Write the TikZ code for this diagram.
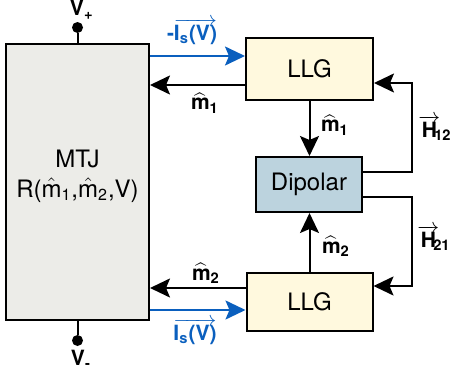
\documentclass[tikz,border=0pt]{standalone}
\usepackage{fontspec}
\setmainfont{TeX Gyre Heros}
\usetikzlibrary{arrows.meta,positioning,calc}
\definecolor{mtjgray}{RGB}{236,236,232}
\definecolor{llgyellow}{RGB}{255,249,222}
\definecolor{dipblue}{RGB}{188,211,222}
\definecolor{spinblue}{RGB}{10,95,190}
\newcommand{\mhat}{\ensuremath{\widehat{\mbox{m}}}}
\newcommand{\vecit}[1]{\ensuremath{\overrightarrow{\mbox{#1}}}}

\begin{document}
\begin{tikzpicture}[x=0.5pt, y=-0.5pt,
    box/.style={draw, line width=1pt, fill=#1, inner sep=0pt, font=\fontsize{12}{14}\selectfont},
    arr/.style={-{Stealth[length=10pt, width=9.5pt, inset=2pt]}, line width=1pt},
    iarr/.style={arr, spinblue},
    lbl/.style={font=\bfseries\fontsize{10.5}{12}\selectfont},
    term/.style={circle, fill, inner sep=0pt, minimum size=5.5pt}
]
\useasboundingbox (0,0) rectangle (451,380);

\node[box=mtjgray, minimum width=71.5pt, minimum height=138pt] (mtj) at (77.5,182) {};
\node[align=center, font=\fontsize{12}{15}\selectfont] (mtjtxt) at (77.5,176)
    {MTJ\\R($\hat{\mbox{m}}$\textsubscript{1},$\hat{\mbox{m}}$\textsubscript{2},V)};
\node[box=llgyellow, minimum width=63.5pt, minimum height=31pt] (llg1) at (309.5,69) {LLG};
\node[box=dipblue, minimum width=53pt, minimum height=27.5pt] (dip) at (309,184.5) {Dipolar};
\node[box=llgyellow, minimum width=63pt, minimum height=29pt] (llg2) at (309.5,302) {LLG};

\node[term] (vp) at (77.5,27.5) {};
\node[term] (vm) at (77.5,340.5) {};
\node[lbl, anchor=base] (vplbl) at (77,16) {V\rlap{\textsubscript{+}}};
\node[lbl, anchor=base] (vmlbl) at (78,365) {V\rlap{\textsubscript{-}}};
\draw[line width=1pt] (vp) -- (mtj.north);
\draw[line width=1pt] (vm) -- (mtj.south);

\coordinate (i1) at ([yshift=6.5pt]llg1.west);
\coordinate (m1) at ([yshift=-8pt]llg1.west);
\coordinate (m2) at ([yshift=7pt]llg2.west);
\coordinate (i2) at ([yshift=-4pt]llg2.west);
\draw[iarr] (i1 -| mtj.east) -- (i1);
\draw[arr] (m1) -- (m1 -| mtj.east);
\draw[arr] (m2) -- (m2 -| mtj.east);
\draw[iarr] (i2 -| mtj.east) -- (i2);

\draw[arr] (llg1.south) -- (llg1.south |- dip.north);
\draw[arr] (llg2.north) -- (llg2.north |- dip.south);

\coordinate (loop) at (412,0);
\coordinate (h1) at ([yshift=6.25pt]dip.east);
\coordinate (h1b) at ([yshift=-7pt]llg1.east);
\coordinate (h2) at ([yshift=-6.25pt]dip.east);
\coordinate (h2b) at ([yshift=8pt]llg2.east);
\draw[arr] (h1) -- (h1 -| loop) -- (h1b -| loop) -- (h1b);
\draw[arr] (h2) -- (h2 -| loop) -- (h2b -| loop) -- (h2b);

\node[lbl, spinblue, anchor=base] (is1) at (192,40) {-\vecit{I\textsubscript{s}(V)}};
\node[lbl, spinblue, anchor=base] (is2) at (195,340) {\vecit{I\textsubscript{s}(V)}};
\node[lbl, anchor=base] (m1lbl) at (205,110) {\mhat\textsubscript{1}};
\node[lbl, anchor=base] (m2lbl) at (206,280) {\mhat\textsubscript{2}};
\node[lbl, anchor=base] (m1v) at (335,132) {\mhat\textsubscript{1}};
\node[lbl, anchor=base] (m2v) at (336,253) {\mhat\textsubscript{2}};
\node[lbl, anchor=base west, inner sep=0pt] (h12) at (418,137) {\vecit{H}\kern-3pt\textsubscript{12}};
\node[lbl, anchor=base west, inner sep=0pt] (h21) at (417,247) {\vecit{H}\kern-3pt\textsubscript{21}};
\end{tikzpicture}
\end{document}
